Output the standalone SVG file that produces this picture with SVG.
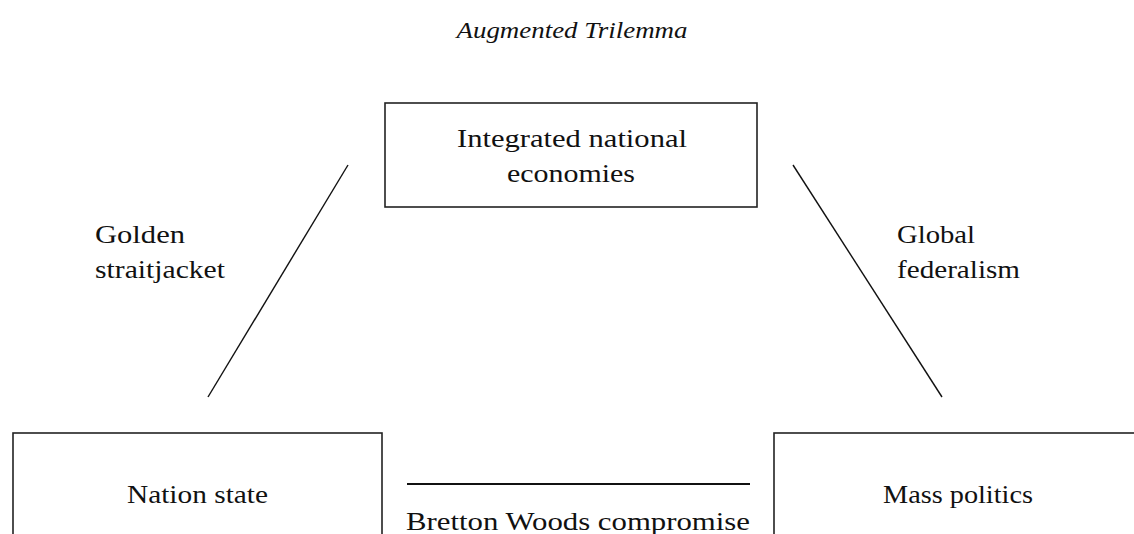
<svg xmlns="http://www.w3.org/2000/svg" width="1134" height="534" viewBox="0 0 1134 534">
<style>
text{font-family:"Liberation Serif","Times New Roman",serif;font-size:25px;fill:#111}
.title{font-style:italic;font-size:23px}
.box{fill:#fff;stroke:#222;stroke-width:1.6}
.edge{stroke:#111;stroke-width:1.4;fill:none}
</style>
<rect width="1134" height="534" fill="#fff"/>
<text class="title" x="572" y="38" text-anchor="middle" textLength="231" lengthAdjust="spacingAndGlyphs">Augmented Trilemma</text>
<g id="connectors">
<line class="edge" x1="348" y1="165" x2="208" y2="397"/>
<line class="edge" x1="793" y1="165" x2="942" y2="397"/>
<line class="edge" x1="407" y1="484" x2="750" y2="484" style="stroke-width:2.2"/>
<text x="95" y="243" textLength="90" lengthAdjust="spacingAndGlyphs">Golden</text>
<text x="95" y="278" textLength="130" lengthAdjust="spacingAndGlyphs">straitjacket</text>
<text x="897" y="243" textLength="78" lengthAdjust="spacingAndGlyphs">Global</text>
<text x="897" y="278" textLength="123" lengthAdjust="spacingAndGlyphs">federalism</text>
<text x="406" y="530" textLength="344" lengthAdjust="spacingAndGlyphs">Bretton Woods compromise</text>
</g>
<g id="integrated">
<rect class="box" x="385" y="103" width="372" height="104"/>
<text x="457" y="147" textLength="230" lengthAdjust="spacingAndGlyphs">Integrated national</text>
<text x="571" y="182" text-anchor="middle" textLength="128" lengthAdjust="spacingAndGlyphs">economies</text>
</g>
<g id="nation">
<rect class="box" x="13" y="433" width="369" height="120"/>
<text x="127" y="503" textLength="141" lengthAdjust="spacingAndGlyphs">Nation state</text>
</g>
<g id="mass">
<rect class="box" x="774" y="433" width="400" height="120"/>
<text x="883" y="503" textLength="150" lengthAdjust="spacingAndGlyphs">Mass politics</text>
</g>
</svg>
